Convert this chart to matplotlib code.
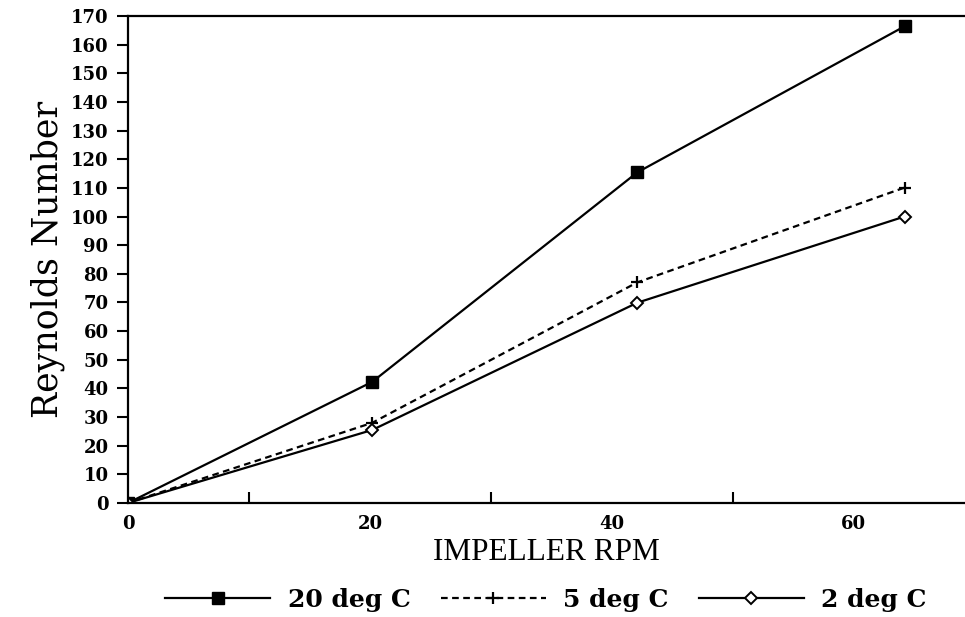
import matplotlib.pyplot as plt
from matplotlib.ticker import MultipleLocator

rpm = [0, 20.2, 42.1, 64.2]
re_20c = [0, 42.3, 115.4, 166.4]
re_5c = [0, 28, 77, 110.1]
re_2c = [0, 25.5, 69.9, 100]
labels = ["20 deg C", "5 deg C", "2 deg C"]

fig = plt.figure(figsize=(9.65, 6.17), dpi=100)
ax = fig.add_axes([0.1326, 0.1848, 0.8674, 0.7892])

ax.plot(rpm, re_20c, color="black", lw=1.6, marker="s", ms=8, label=labels[0])
ax.plot(rpm, re_5c, color="black", lw=1.6, ls=(0, (3, 2)), marker="+", ms=9,
        mew=1.6, label=labels[1])
ax.plot(rpm, re_2c, color="black", lw=1.6, marker="D", ms=6, mfc="white",
        mew=1.4, label=labels[2])

ax.set_xlim(0, 69.2)
ax.set_ylim(0, 170)
ax.yaxis.set_major_locator(MultipleLocator(10))
ax.set_xticks([0, 20, 40, 60])
ax.set_xticks([10, 30, 50], minor=True)
ax.tick_params(axis="x", which="major", length=0, pad=9)
ax.tick_params(axis="x", which="minor", direction="in", length=8, width=1.5)
ax.tick_params(axis="y", which="major", direction="out", length=8, width=1.5, pad=6)
for lab in ax.get_xticklabels() + ax.get_yticklabels():
    lab.set_fontfamily("DejaVu Serif")
    lab.set_fontweight("bold")
    lab.set_fontsize(13)

ax.spines["right"].set_visible(False)
for s in ["left", "bottom", "top"]:
    ax.spines[s].set_linewidth(1.6)

ax.set_ylabel("Reynolds Number", fontfamily="DejaVu Serif", fontsize=25, labelpad=4)
ax.set_xlabel("IMPELLER RPM", fontfamily="Liberation Serif", fontsize=22.5, labelpad=3)

fig.legend(*ax.get_legend_handles_labels(), loc="center",
           bbox_to_anchor=(546 / 965, 1 - 600 / 617), ncol=3,
           frameon=False, handlelength=4.2, handletextpad=0.7, columnspacing=1.2,
           borderaxespad=0, borderpad=0,
           prop={"family": "DejaVu Serif", "weight": "bold", "size": 18})

fig.savefig("out.png", dpi=100)
